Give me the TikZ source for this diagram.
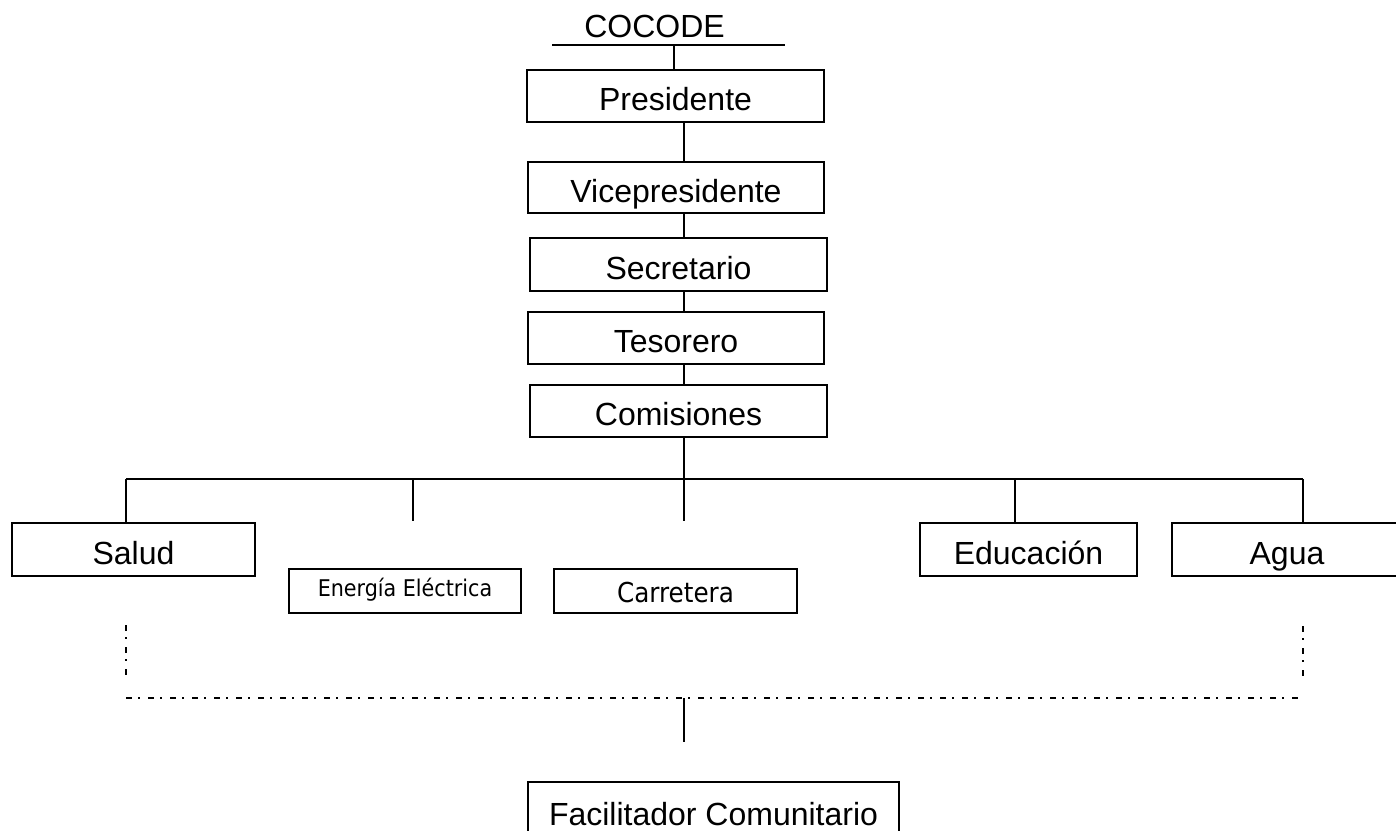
\documentclass[tikz,border=0pt]{standalone}
\usepackage{fontspec}
\setmainfont{Liberation Sans}
\newfontfamily\tahfont{DejaVu Sans Condensed}
\begin{document}
\begin{tikzpicture}[x=0.5pt,y=-0.5pt,
  line width=0.9pt,
  box/.style={draw,line width=0.9pt,inner sep=0pt,text height=14.5pt,text depth=0pt,font=\fontsize{16}{16}\selectfont},
  smallbox/.style={draw,line width=0.9pt,inner sep=0pt,text depth=0pt},
  dashdot/.style={line width=0.9pt,dash pattern=on 3pt off 3pt on 1pt off 4pt}]
\useasboundingbox (0,0) rectangle (1396,830);
\clip (0,0) rectangle (1396,830);
% title
\node[font=\fontsize{16}{16}\selectfont,inner sep=0pt,text height=11.5pt,text depth=0pt] (cocode) at (654.5,26) {COCODE};
\coordinate (cocL) at (552,45);
\coordinate (cocR) at (785,45);
\coordinate (cocX) at (674,0);
\draw (cocL) -- (cocR);
\coordinate (spine) at (684,0);
% chain
\node[box,minimum width=148.5pt,minimum height=26pt] (pres) at (675.5,96) {Presidente};
\node[box,minimum width=148pt,minimum height=25.5pt] (vice) at (676,187.5) {Vicepresidente};
\node[box,minimum width=148.5pt,minimum height=26.5pt] (secr) at (678.5,264.5) {Secretario};
\node[box,minimum width=148pt,minimum height=26pt] (teso) at (676,338) {Tesorero};
\node[box,minimum width=148.5pt,minimum height=26pt] (comi) at (678.5,411) {Comisiones};
\draw (pres.north -| cocX) -- (cocL -| cocX);
\draw (pres.south -| spine) -- (vice.north -| spine);
\draw (vice.south -| spine) -- (secr.north -| spine);
\draw (secr.south -| spine) -- (teso.north -| spine);
\draw (teso.south -| spine) -- (comi.north -| spine);
% commissions
\node[box,minimum width=121.5pt,minimum height=26.5pt] (salud) at (133.5,549.5) {Salud};
\node[smallbox,text height=5.4pt,font=\tahfont\fontsize{11.5}{11.5}\selectfont,minimum width=116pt,minimum height=22pt] (ener) at (405,591) {Energía Eléctrica};
\node[smallbox,text height=11pt,font=\tahfont\fontsize{13.7}{13.7}\selectfont,minimum width=121.5pt,minimum height=22pt] (carr) at (675.5,591) {Carretera};
\node[box,minimum width=108.5pt,minimum height=26.5pt] (educ) at (1028.5,549.5) {Educación};
\node[box,minimum width=115pt,minimum height=26.5pt] (agua) at (1287,549.5) {Agua};
\coordinate (barL) at (126,479);
\coordinate (barR) at (1303,479);
\coordinate (eDrop) at (413,521);
\coordinate (eduX) at (1015,0);
\draw (comi.south -| spine) -- (barL -| spine);
\draw (barL) -- (barR);
\draw (barL) -- (salud.north -| barL);
\draw (eDrop |- barL) -- (eDrop);
\draw (spine |- barL) -- (spine |- eDrop);
\draw (eduX |- barL) -- (educ.north -| eduX);
\draw (barR) -- (agua.north -| barR);
% dash-dot connectors
\coordinate (vL1) at (126,625);
\coordinate (vL2) at (126,677);
\coordinate (vR1) at (1303,626);
\coordinate (vR2) at (1303,678);
\coordinate (dL) at (126,698);
\coordinate (dR) at (1300,698);
\draw[dashdot] (vL1) -- (vL2);
\draw[dashdot] (vR1) -- (vR2);
\draw[dashdot] (dL) -- (dR);
% facilitador
\node[box,minimum width=185.5pt,minimum height=29pt] (faci) at (713.5,811) {Facilitador Comunitario};
\coordinate (fDrop) at (684,742);
\draw (spine |- dL) -- (fDrop);
\end{tikzpicture}
\end{document}
